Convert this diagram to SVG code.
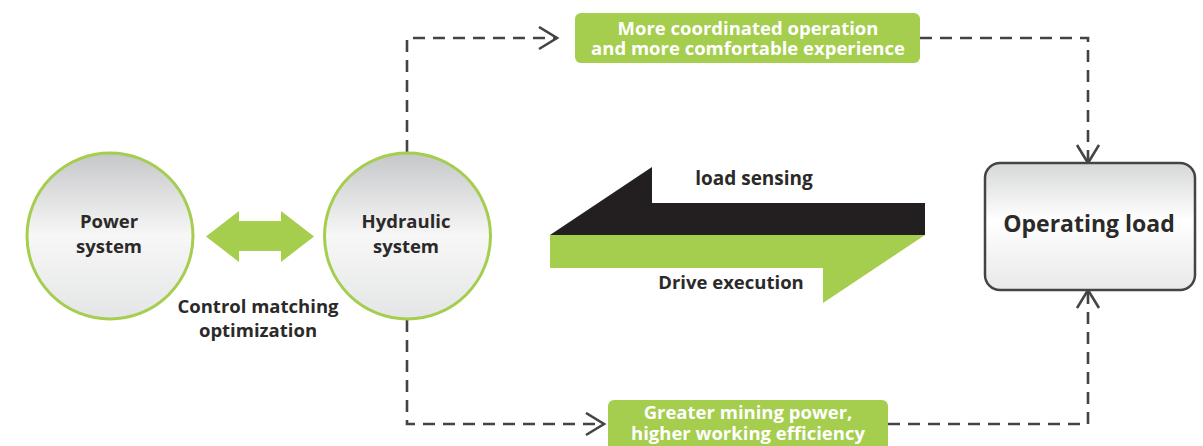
<svg xmlns="http://www.w3.org/2000/svg" width="1203" height="446" viewBox="0 0 1203 446">
<defs>
<style>
.t{font-family:"Open Sans","Liberation Sans",sans-serif;font-weight:bold;text-anchor:middle;font-size:18.5px}
.dk{fill:#2b2a29}
.wt{fill:#ffffff}
.dash{fill:none;stroke:#444;stroke-width:2.6;stroke-dasharray:12 8;marker-end:url(#chev)}
.circ{fill:url(#cg);stroke:#a5cd4e;stroke-width:3}
.gbox{fill:#a5cd4e}
</style>
<linearGradient id="cg" x1="0" y1="0" x2="0" y2="1">
<stop offset="0" stop-color="#c6c7c9"/>
<stop offset="0.5" stop-color="#f7f7f7"/>
<stop offset="1" stop-color="#e4e5e6"/>
</linearGradient>
<linearGradient id="bg" x1="0" y1="0" x2="0" y2="1">
<stop offset="0" stop-color="#d6d7d8"/>
<stop offset="0.45" stop-color="#ffffff"/>
<stop offset="1" stop-color="#e9e9ea"/>
</linearGradient>
<marker id="chev" markerUnits="userSpaceOnUse" markerWidth="30" markerHeight="30" refX="20" refY="12" orient="auto" viewBox="0 0 30 30">
<path d="M2,1 L20,12 L2,23" fill="none" stroke="#444" stroke-width="2.6"/>
</marker>
</defs>
<g id="connectors">
<path class="dash" d="M407,152 V38 H557"/>
<path class="dash" d="M920,38 H1088 V163"/>
<path class="dash" d="M407,320 V424 H604"/>
<path class="dash" d="M888,424 H1088 V290"/>
<polygon id="match-arrow" fill="#a5cd4e" points="206,236.5 239,211 239,221 281,221 281,211 314,236.5 281,262 281,251 239,251 239,262"/>
<polygon id="load-sensing-arrow" fill="#231f20" points="550,235 652,167 652,203 925,203 925,235"/>
<polygon id="drive-arrow" fill="#a5cd4e" points="550,235 925,235 823,303 823,268 550,268"/>
</g>
<g id="power-system">
<circle class="circ" cx="110" cy="236" r="83"/>
<text class="t dk" x="109" y="228">Power</text>
<text class="t dk" x="109" y="253">system</text>
</g>
<g id="hydraulic-system">
<circle class="circ" cx="407.5" cy="236" r="83"/>
<text class="t dk" x="406" y="228">Hydraulic</text>
<text class="t dk" x="406" y="253">system</text>
</g>
<g id="control-label">
<text class="t dk" x="258" y="313">Control matching</text>
<text class="t dk" x="258" y="337">optimization</text>
</g>
<g id="load-sensing-label">
<text class="t dk" x="754" y="185" style="font-size:19px">load sensing</text>
</g>
<g id="drive-label">
<text class="t dk" x="731" y="289">Drive execution</text>
</g>
<g id="operating-load">
<rect x="985" y="163" width="210" height="127" rx="15" fill="url(#bg)" stroke="#444" stroke-width="2.5"/>
<text class="t dk" x="1089" y="232" style="font-size:23px">Operating load</text>
</g>
<g id="coordinated-box">
<rect class="gbox" x="575" y="13" width="345" height="50" rx="6"/>
<text class="t wt" x="748" y="35">More coordinated operation</text>
<text class="t wt" x="748" y="55">and more comfortable experience</text>
</g>
<g id="mining-box">
<rect class="gbox" x="608" y="400" width="280" height="60" rx="6"/>
<text class="t wt" x="748" y="419">Greater mining power,</text>
<text class="t wt" x="748" y="440">higher working efficiency</text>
</g>
</svg>
